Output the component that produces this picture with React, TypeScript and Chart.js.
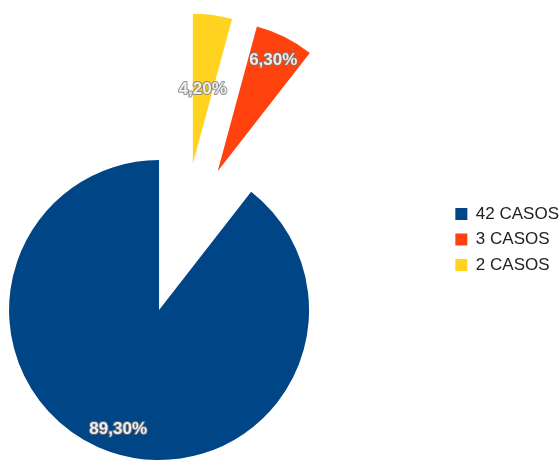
import React, { useEffect, useRef } from 'react';
import { Chart, ArcElement, PieController, Legend } from 'chart.js';

// ---- data ----
const categories = ['2 CASOS', '3 CASOS', '42 CASOS'];
const percentages = [4.2, 6.3, 89.3];
const sliceColors = ['#ffd320', '#ff420e', '#004586'];

// ---- exploded arc: translate the slice outward without growing it ----
class ExplodedArc extends ArcElement {
  static id = 'explodedArc';
  draw(ctx: CanvasRenderingContext2D) {
    const self: any = this;
    const opts: any = self.options;
    const shift = (opts && opts.offset) || 0;
    const mid = (self.startAngle + self.endAngle) / 2;
    ctx.save();
    ctx.translate(Math.cos(mid) * shift, Math.sin(mid) * shift);
    self.options = { ...opts, offset: 0 };
    super.draw(ctx);
    self.options = opts;
    ctx.restore();
  }
}

class ExplodedPieController extends PieController {
  static id = 'explodedPie';
  static defaults = { dataElementType: 'explodedArc' };
}

Chart.register(ArcElement, PieController, Legend, ExplodedArc as any, ExplodedPieController as any);

const formatPct = (v: number) => v.toFixed(2).replace('.', ',') + '%';

const pieValueLabels = {
  id: 'pieValueLabels',
  afterDatasetsDraw(chart: any, _args: any, opts: any) {
    const ctx: CanvasRenderingContext2D = chart.ctx;
    const meta = chart.getDatasetMeta(0);
    const ds = chart.data.datasets[0];
    const radii: number[] = opts.radius || [];
    ctx.save();
    ctx.font = 'bold 17px "Liberation Sans", Arial, sans-serif';
    ctx.textAlign = 'center';
    ctx.textBaseline = 'middle';
    ctx.lineJoin = 'round';
    meta.data.forEach((arc: any, i: number) => {
      const { x, y, startAngle, endAngle, outerRadius } = arc.getProps(
        ['x', 'y', 'startAngle', 'endAngle', 'outerRadius'],
        true
      );
      const shift = arc.options.offset || 0;
      const mid = (startAngle + endAngle) / 2;
      const dist = shift + outerRadius * (radii[i] ?? 0.8);
      const px = x + Math.cos(mid) * dist;
      const py = y + Math.sin(mid) * dist;
      const text = formatPct(ds.data[i]);
      ctx.lineWidth = 2;
      ctx.strokeStyle = 'rgba(120,120,120,0.8)';
      ctx.strokeText(text, px, py);
      ctx.fillStyle = '#ededed';
      ctx.fillText(text, px, py);
    });
    ctx.restore();
  },
};

const CANVAS_W = 651;
const CANVAS_H = 463;
const CANVAS_LEFT = -82;

export default function App() {
  const ref = useRef<HTMLCanvasElement>(null);

  useEffect(() => {
    if (!ref.current) return;
    const chart = new Chart(ref.current, {
      type: 'explodedPie' as any,
      data: {
        labels: categories,
        datasets: [
          {
            data: percentages,
            backgroundColor: sliceColors,
            borderWidth: 0,
            offset: [79, 79, 72],
            radius: 150,
          } as any,
        ],
      },
      options: {
        responsive: false,
        animation: false,
        layout: { padding: { top: 197, bottom: 176, left: 0, right: 0 } },
        plugins: {
          tooltip: { enabled: false },
          legend: {
            position: 'right',
            align: 'start',
            reverse: true,
            labels: {
              boxWidth: 12,
              boxHeight: 12,
              padding: 8.5,
              color: '#222222',
              font: { family: '"Liberation Sans", Arial, sans-serif', size: 17 },
            },
          },
          pieValueLabels: { radius: [0.5, 0.83, 0.84] },
        } as any,
      },
      plugins: [pieValueLabels as any],
    });
    return () => chart.destroy();
  }, []);

  return (
    <div
      style={{
        position: 'fixed',
        left: 0,
        top: 0,
        width: 559,
        height: 463,
        overflow: 'hidden',
        background: '#ffffff',
      }}
    >
      <canvas
        ref={ref}
        width={CANVAS_W}
        height={CANVAS_H}
        style={{ position: 'absolute', left: CANVAS_LEFT, top: 0, width: CANVAS_W, height: CANVAS_H }}
      />
    </div>
  );
}
